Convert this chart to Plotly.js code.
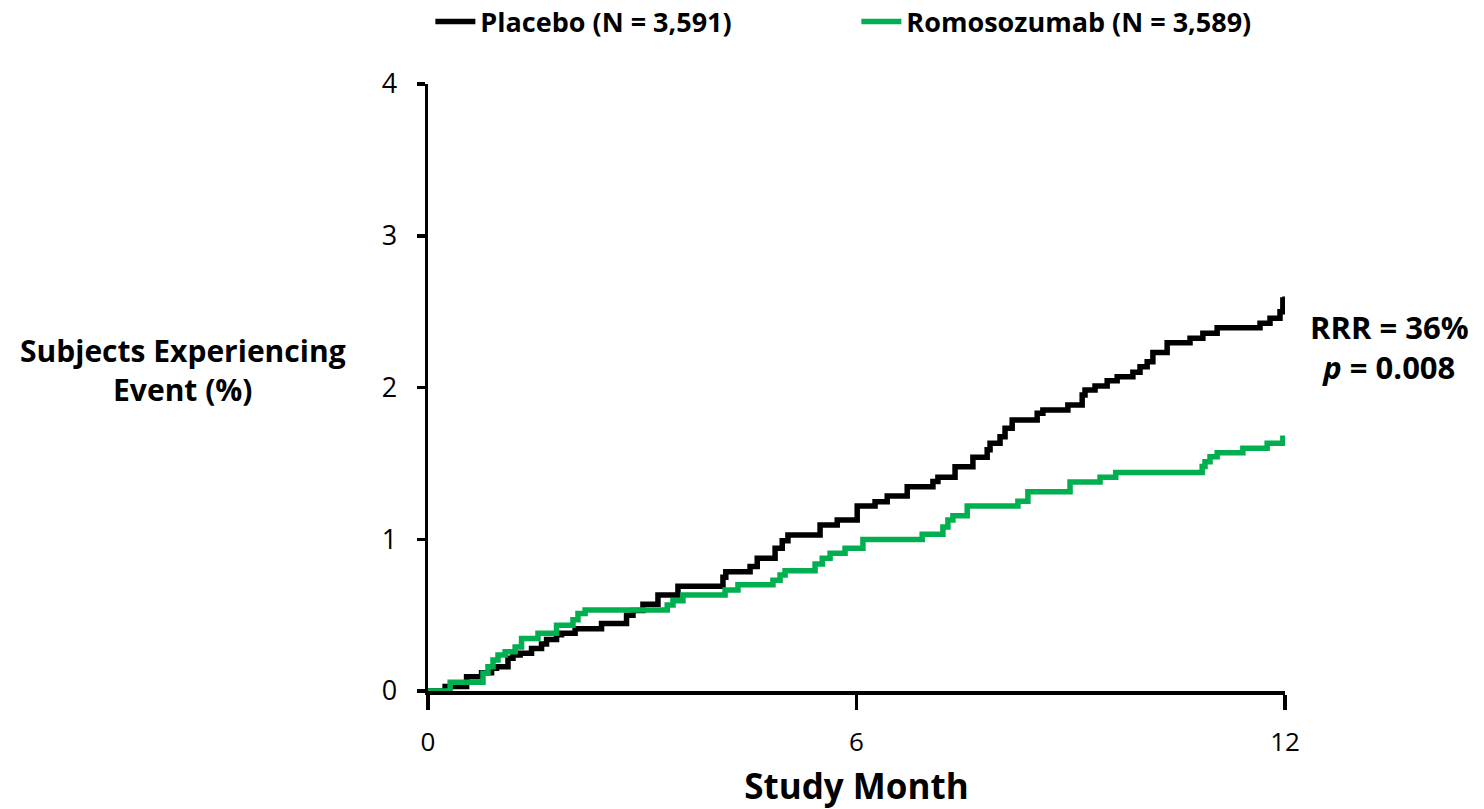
<!DOCTYPE html>
<html>
<head>
<meta charset="utf-8">
<script src="https://cdn.plot.ly/plotly-3.0.1.min.js"></script>
<style>
  html, body { margin: 0; padding: 0; background: #fff; }
  #chart { width: 1484px; height: 809px; }
</style>
</head>
<body>
<div id="chart"></div>
<script>
// Cumulative incidence (%) by study month, step points for each arm
const placeboMonths = [0, 0.24, 0.54, 0.75, 0.89, 0.96, 1.12, 1.19, 1.29, 1.45, 1.59, 1.66, 1.80, 1.87, 2.06, 2.43, 2.78, 2.87, 3.01, 3.22, 3.50, 4.13, 4.17, 4.51, 4.61, 4.86, 4.96, 5.04, 5.49, 5.73, 6.01, 6.26, 6.43, 6.71, 7.07, 7.14, 7.38, 7.63, 7.83, 7.87, 8.01, 8.08, 8.18, 8.53, 8.61, 8.96, 9.16, 9.20, 9.34, 9.51, 9.65, 9.87, 9.97, 10.07, 10.15, 10.35, 10.67, 10.85, 11.05, 11.65, 11.79, 11.93, 11.97, 12.0];
const placeboPct = [0, 0.03, 0.094, 0.121, 0.15, 0.16, 0.215, 0.237, 0.248, 0.28, 0.31, 0.34, 0.37, 0.38, 0.41, 0.445, 0.50, 0.53, 0.571, 0.633, 0.69, 0.75, 0.786, 0.82, 0.874, 0.94, 0.99, 1.028, 1.094, 1.127, 1.219, 1.247, 1.285, 1.346, 1.38, 1.408, 1.478, 1.54, 1.59, 1.632, 1.676, 1.731, 1.786, 1.83, 1.852, 1.885, 1.95, 1.984, 2.01, 2.045, 2.071, 2.10, 2.137, 2.17, 2.23, 2.295, 2.324, 2.357, 2.394, 2.423, 2.456, 2.5, 2.577, 2.6];

const romoMonths = [0, 0.31, 0.77, 0.84, 0.91, 0.98, 1.08, 1.22, 1.31, 1.54, 1.80, 2.03, 2.10, 2.20, 3.35, 3.43, 3.57, 4.16, 4.34, 4.83, 4.93, 5.0, 5.42, 5.52, 5.63, 5.84, 6.09, 6.92, 7.21, 7.28, 7.35, 7.55, 8.26, 8.40, 8.99, 9.41, 9.63, 10.84, 10.88, 10.95, 11.05, 11.41, 11.75, 11.97, 12.0];
const romoPct = [0, 0.057, 0.117, 0.16, 0.204, 0.237, 0.259, 0.29, 0.346, 0.38, 0.433, 0.47, 0.51, 0.534, 0.567, 0.595, 0.633, 0.666, 0.70, 0.73, 0.764, 0.793, 0.837, 0.874, 0.907, 0.94, 0.999, 1.033, 1.08, 1.127, 1.155, 1.219, 1.25, 1.313, 1.377, 1.408, 1.44, 1.48, 1.51, 1.544, 1.57, 1.6, 1.632, 1.665, 1.665];

const seriesNames = ['Placebo (N = 3,591)', 'Romosozumab (N = 3,589)'];
const xTicks = [0, 6, 12];
const yTicks = [0, 1, 2, 3, 4];

const FONT = '"Open Sans", "DejaVu Sans", sans-serif';

const traces = [
  {
    x: placeboMonths, y: placeboPct, name: seriesNames[0],
    type: 'scatter', mode: 'lines',
    line: { shape: 'hv', color: '#000000', width: 5.5 }
  },
  {
    x: romoMonths, y: romoPct, name: seriesNames[1],
    type: 'scatter', mode: 'lines',
    line: { shape: 'hv', color: '#00B050', width: 5.5 }
  }
];

const layout = {
  width: 1484, height: 809,
  margin: { l: 428, r: 199, t: 84, b: 118, autoexpand: false },
  paper_bgcolor: '#ffffff', plot_bgcolor: '#ffffff',
  font: { family: FONT, color: '#000000' },
  showlegend: true,
  legend: {
    orientation: 'h',
    xref: 'container', x: 0.29, xanchor: 'left',
    yref: 'container', y: 0.973, yanchor: 'middle',
    font: { family: FONT, size: 27, color: '#000000', weight: 'bold' },
    entrywidth: 371, entrywidthmode: 'pixels', itemwidth: 40, tracegroupgap: 0
  },
  xaxis: {
    range: [0, 12], tickvals: xTicks, ticktext: xTicks.map(String),
    showgrid: false, zeroline: false,
    showline: true, linecolor: '#000000', linewidth: 3.5,
    ticks: 'outside', ticklen: 15, tickwidth: 3.5, tickcolor: '#000000',
    ticklabelstandoff: 10,
    tickfont: { family: FONT, size: 26, color: '#000000' },
    title: { text: 'Study Month', font: { family: FONT, size: 35, color: '#000000', weight: 'bold' }, standoff: 18 }
  },
  yaxis: {
    range: [0, 4], tickvals: yTicks, ticktext: yTicks.map(String),
    showgrid: false, zeroline: false,
    showline: true, linecolor: '#000000', linewidth: 3.5,
    ticks: 'outside', ticklen: 8, tickwidth: 3.5, tickcolor: '#000000',
    ticklabelstandoff: 14,
    tickfont: { family: FONT, size: 27, color: '#000000' }
  },
  annotations: [
    {
      xref: 'paper', yref: 'paper', x: -0.286, y: 0.529,
      xanchor: 'center', yanchor: 'middle', align: 'center', showarrow: false,
      text: 'Subjects Experiencing<br>Event (%)',
      font: { family: FONT, size: 30, color: '#000000', weight: 'bold' }
    },
    {
      xref: 'paper', yref: 'paper', x: 1.1225, y: 0.567,
      xanchor: 'center', yanchor: 'middle', align: 'center', showarrow: false,
      text: 'RRR = 36%<br><i>p</i> = 0.008',
      font: { family: FONT, size: 31, color: '#000000', weight: 'bold' }
    }
  ]
};

Plotly.newPlot('chart', traces, layout, { displayModeBar: false, staticPlot: true });
</script>
</body>
</html>
